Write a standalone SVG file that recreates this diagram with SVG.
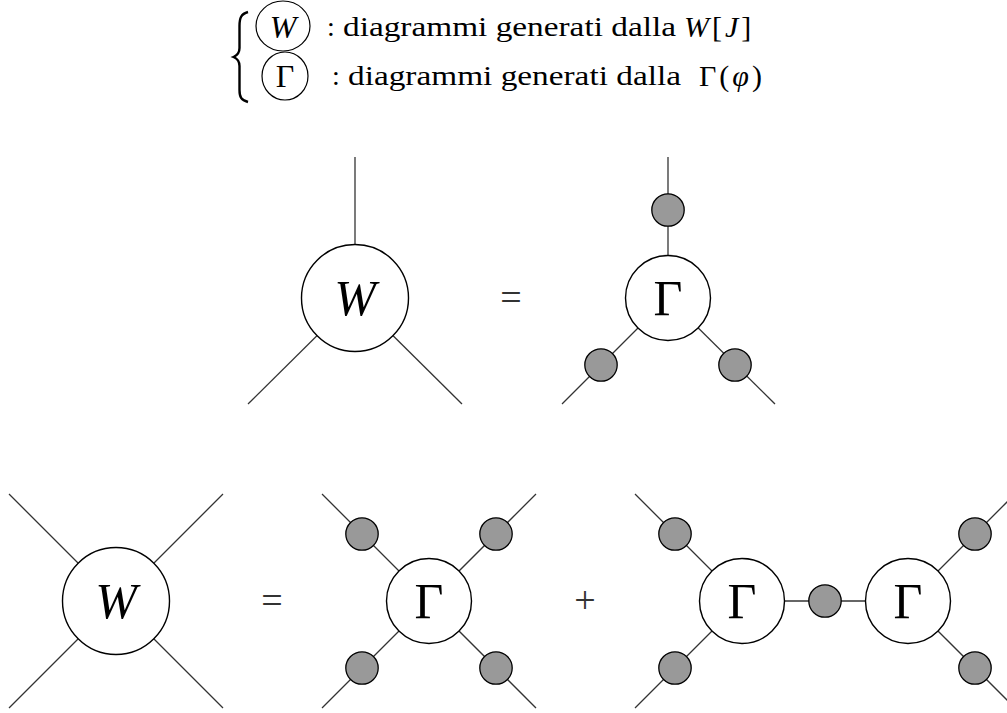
<svg xmlns="http://www.w3.org/2000/svg" width="1007" height="713" viewBox="0 0 1007 713">
<style>
.ln{stroke:#333;stroke-width:1.3;fill:none}
.big{fill:#fff;stroke:#000;stroke-width:1.4}
.dot{fill:#999;stroke:#000;stroke-width:1.3}
text{font-family:'Liberation Serif','DejaVu Serif',serif;fill:#000}
.lbl{font-size:50px;text-anchor:middle}
.it{font-style:italic}
.op{font-size:38px;text-anchor:middle;fill:#333}
.hd{font-size:28px}
.mth{font-size:30px;letter-spacing:3px}
</style>
<rect width="1007" height="713" fill="#fff"/>
<g id="legend">
<path d="M248,12 C241,14 239.5,18 239.5,26 L239.5,48 C239.5,53 237,55.5 233.5,57 C237,58.5 239.5,61 239.5,66 L239.5,90 C239.5,97 241,100 248,102" fill="none" stroke="#000" stroke-width="2.4"/>
<ellipse cx="283" cy="26" rx="27" ry="25" fill="none" stroke="#000" stroke-width="1.2"/>
<text class="it" x="283" y="38" font-size="32" text-anchor="middle">W</text>
<ellipse cx="285" cy="76" rx="23" ry="24" fill="none" stroke="#000" stroke-width="1.2"/>
<text x="285" y="87" font-size="32" text-anchor="middle">Γ</text>
<text class="hd" x="327" y="36">:</text>
<text class="hd" x="343" y="36" textLength="333" lengthAdjust="spacingAndGlyphs">diagrammi generati dalla</text>
<text class="mth" x="684" y="37"><tspan font-style="italic">W</tspan>[<tspan font-style="italic">J</tspan>]</text>
<text class="hd" x="332" y="85">:</text>
<text class="hd" x="348" y="85" textLength="333" lengthAdjust="spacingAndGlyphs">diagrammi generati dalla</text>
<text class="mth" x="699" y="86">Γ(<tspan font-style="italic">φ</tspan>)</text>
</g>
<g id="connectors">
<line class="ln" x1="355" y1="157" x2="355" y2="298"/>
<line class="ln" x1="355" y1="298" x2="248" y2="404"/>
<line class="ln" x1="355" y1="298" x2="462" y2="404"/>
<line class="ln" x1="668" y1="157" x2="668" y2="298"/>
<line class="ln" x1="668" y1="298" x2="562" y2="404"/>
<line class="ln" x1="668" y1="298" x2="775" y2="404"/>
<line class="ln" x1="116" y1="601" x2="9" y2="494"/>
<line class="ln" x1="116" y1="601" x2="223" y2="494"/>
<line class="ln" x1="116" y1="601" x2="9" y2="708"/>
<line class="ln" x1="116" y1="601" x2="223" y2="708"/>
<line class="ln" x1="429" y1="601" x2="322" y2="494"/>
<line class="ln" x1="429" y1="601" x2="536" y2="494"/>
<line class="ln" x1="429" y1="601" x2="322" y2="708"/>
<line class="ln" x1="429" y1="601" x2="536" y2="708"/>
<line class="ln" x1="742" y1="601" x2="635" y2="494"/>
<line class="ln" x1="742" y1="601" x2="635" y2="708"/>
<line class="ln" x1="742" y1="601" x2="908" y2="601"/>
<line class="ln" x1="908" y1="601" x2="1015" y2="494"/>
<line class="ln" x1="908" y1="601" x2="1015" y2="708"/>
</g>
<g id="W1">
<circle class="big" cx="355" cy="298" r="53.5"/>
<text class="lbl it" x="355" y="315">W</text>
</g>
<text class="op" x="511" y="310">=</text>
<g id="G1">
<circle class="big" cx="668" cy="298" r="42.5"/>
<text class="lbl" x="668" y="315">Γ</text>
</g>
<g id="G1dots">
<circle class="dot" cx="668" cy="210" r="16.2"/>
<circle class="dot" cx="601" cy="365" r="16.2"/>
<circle class="dot" cx="735" cy="365" r="16.2"/>
</g>
<g id="W2">
<circle class="big" cx="116" cy="601" r="53.5"/>
<text class="lbl it" x="116" y="618">W</text>
</g>
<text class="op" x="272" y="613">=</text>
<g id="G2">
<circle class="big" cx="429" cy="601" r="42.5"/>
<text class="lbl" x="429" y="618">Γ</text>
</g>
<g id="G2dots">
<circle class="dot" cx="362" cy="534" r="16.2"/>
<circle class="dot" cx="496" cy="534" r="16.2"/>
<circle class="dot" cx="362" cy="668" r="16.2"/>
<circle class="dot" cx="496" cy="668" r="16.2"/>
</g>
<text class="op" x="585" y="613">+</text>
<g id="G3">
<circle class="big" cx="742" cy="601" r="42.5"/>
<text class="lbl" x="742" y="618">Γ</text>
</g>
<g id="G4">
<circle class="big" cx="908" cy="601" r="42.5"/>
<text class="lbl" x="908" y="618">Γ</text>
</g>
<g id="G34dots">
<circle class="dot" cx="675" cy="534" r="16.2"/>
<circle class="dot" cx="675" cy="668" r="16.2"/>
<circle class="dot" cx="825" cy="601" r="16.2"/>
<circle class="dot" cx="975" cy="534" r="16.2"/>
<circle class="dot" cx="975" cy="668" r="16.2"/>
</g>
</svg>
